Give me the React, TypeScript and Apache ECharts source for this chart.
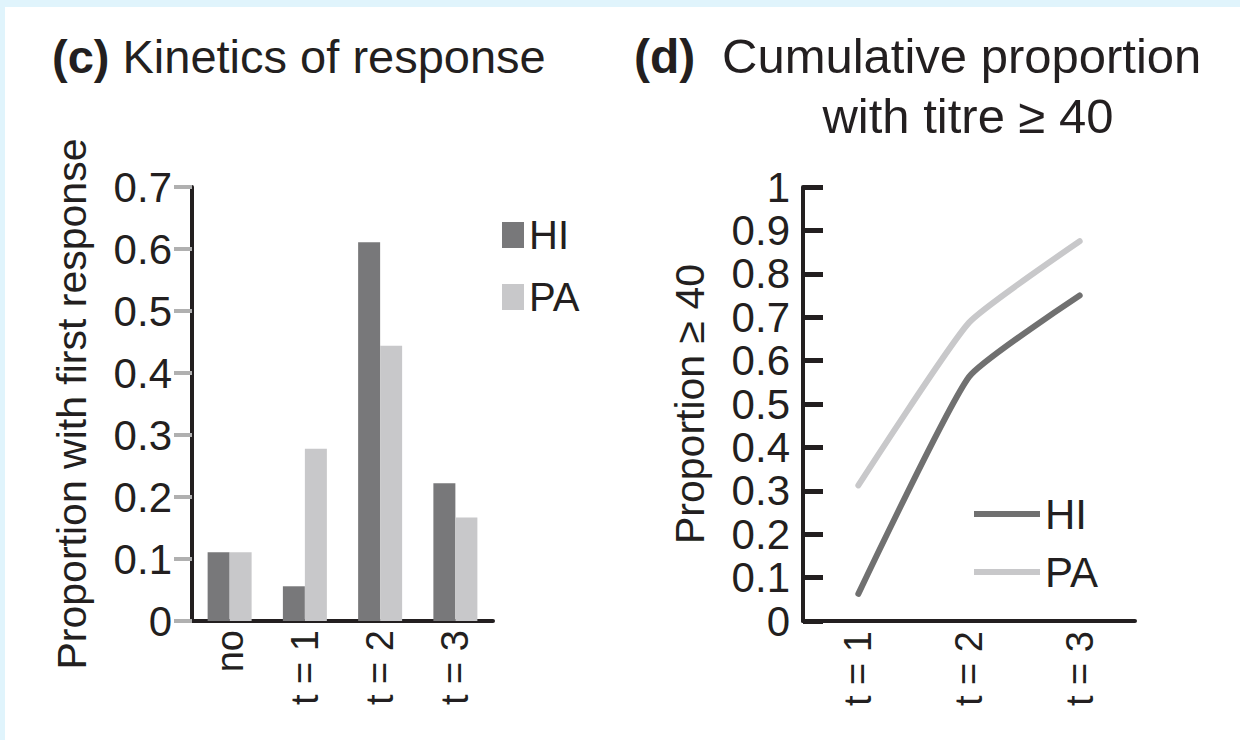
import React, { useEffect, useRef } from "react";
import * as echarts from "echarts";

const CATEGORIES_C = ["no", "t = 1", "t = 2", "t = 3"];
const HI_C = [0.111, 0.056, 0.611, 0.222];
const PA_C = [0.111, 0.278, 0.444, 0.167];

const CATEGORIES_D = ["t = 1", "t = 2", "t = 3"];
const HI_D = [0.0625, 0.5625, 0.75];
const PA_D = [0.3125, 0.6875, 0.875];

const FONT = "'Liberation Sans', Arial, Helvetica, sans-serif";
const INK = "#231f20";
const DARK = "#78787a";
const LIGHT = "#c8c8ca";

export default function App() {
  const ref = useRef<HTMLDivElement>(null);

  useEffect(() => {
    if (!ref.current) return;
    const chart = echarts.init(ref.current, null, { renderer: "svg" });
    const fmt = (v: number) => String(Math.round(v * 10) / 10);
    const option: any = {
      animation: false,
      backgroundColor: "#ffffff",
      textStyle: { fontFamily: FONT, color: INK },
      graphic: [
        { type: "rect", shape: { x: 0, y: 0, width: 1240, height: 7 }, style: { fill: "#e0f4fc" } },
        { type: "rect", shape: { x: 0, y: 0, width: 5, height: 740 }, style: { fill: "#e0f4fc" } },
        {
          type: "text",
          x: 52,
          y: 56,
          style: {
            text: "{b|(c)} Kinetics of response",
            fontFamily: FONT,
            fontSize: 47,
            fill: INK,
            verticalAlign: "middle",
            align: "left",
            rich: { b: { fontWeight: "bold", fontSize: 47, fontFamily: FONT, fill: INK } },
          },
        },
        {
          type: "text",
          x: 634,
          y: 56,
          style: { text: "(d)", fontFamily: FONT, fontSize: 48, fontWeight: "bold", fill: INK, verticalAlign: "middle", align: "left" },
        },
        {
          type: "text",
          x: 722,
          y: 56,
          style: { text: "Cumulative proportion", fontFamily: FONT, fontSize: 49, fill: INK, verticalAlign: "middle", align: "left" },
        },
        {
          type: "text",
          x: 968,
          y: 116,
          style: { text: "with titre \u2265 40", fontFamily: FONT, fontSize: 49, fill: INK, verticalAlign: "middle", align: "center" },
        },
      ],
      legend: [
        {
          data: ["HI-c", "PA-c"],
          orient: "vertical",
          left: 497,
          top: 210,
          icon: "rect",
          itemWidth: 22,
          itemHeight: 26,
          itemGap: 22,
          formatter: (n: string) => n.slice(0, 2),
          textStyle: { fontFamily: FONT, fontSize: 40, lineHeight: 40, color: INK },
        },
        {
          data: ["HI-d", "PA-d"],
          orient: "vertical",
          left: 969,
          top: 488,
          icon: "rect",
          itemWidth: 66,
          itemHeight: 6,
          itemGap: 16,
          formatter: (n: string) => n.slice(0, 2),
          textStyle: { fontFamily: FONT, fontSize: 42, lineHeight: 42, color: INK },
        },
      ],
      grid: [
        { left: 192, top: 187, width: 301, height: 434, containLabel: false },
        { left: 803, top: 187, width: 332, height: 434, containLabel: false },
      ],
      xAxis: [
        {
          type: "category",
          gridIndex: 0,
          data: CATEGORIES_C,
          axisLine: { lineStyle: { color: INK, width: 4 } },
          axisTick: { show: false },
          axisLabel: { rotate: 90, interval: 0, margin: 9, fontSize: 38, color: INK, fontFamily: FONT },
        },
        {
          type: "category",
          gridIndex: 1,
          data: CATEGORIES_D,
          axisLine: { lineStyle: { color: INK, width: 4 } },
          axisTick: { show: false },
          axisLabel: { rotate: 90, interval: 0, margin: 10, fontSize: 38, color: INK, fontFamily: FONT },
        },
      ],
      yAxis: [
        {
          type: "value",
          gridIndex: 0,
          min: 0,
          max: 0.7,
          interval: 0.1,
          name: "Proportion with first response",
          nameLocation: "middle",
          nameGap: 100,
          nameTextStyle: { fontSize: 41, color: INK, fontFamily: FONT },
          axisLine: { show: true, lineStyle: { color: INK, width: 4 } },
          axisTick: { show: true, length: 18, lineStyle: { color: "#b0b0b0", width: 4 } },
          axisLabel: { margin: 20, fontSize: 42, color: INK, fontFamily: FONT, formatter: fmt },
          splitLine: { show: false },
        },
        {
          type: "value",
          gridIndex: 1,
          min: 0,
          max: 1,
          interval: 0.1,
          name: "Proportion \u2265 40",
          nameLocation: "middle",
          nameGap: 93,
          nameTextStyle: { fontSize: 41, color: INK, fontFamily: FONT },
          axisLine: { show: true, lineStyle: { color: INK, width: 4 } },
          axisTick: { show: true, inside: true, length: 20, lineStyle: { color: INK, width: 5 } },
          axisLabel: { margin: 13, fontSize: 42, color: INK, fontFamily: FONT, formatter: fmt },
          splitLine: { show: false },
        },
      ],
      series: [
        {
          name: "HI-c",
          type: "bar",
          xAxisIndex: 0,
          yAxisIndex: 0,
          data: HI_C,
          barWidth: 22,
          barGap: "0%",
          itemStyle: { color: DARK },
        },
        {
          name: "PA-c",
          type: "bar",
          xAxisIndex: 0,
          yAxisIndex: 0,
          data: PA_C,
          barWidth: 22,
          barGap: "0%",
          itemStyle: { color: LIGHT },
        },
        {
          name: "HI-d",
          type: "line",
          xAxisIndex: 1,
          yAxisIndex: 1,
          data: HI_D,
          smooth: 0.15,
          symbol: "none",
          itemStyle: { color: "#707070" },
          lineStyle: { color: "#707070", width: 6, cap: "round", join: "round" },
        },
        {
          name: "PA-d",
          type: "line",
          xAxisIndex: 1,
          yAxisIndex: 1,
          data: PA_D,
          smooth: 0.15,
          symbol: "none",
          itemStyle: { color: LIGHT },
          lineStyle: { color: LIGHT, width: 6, cap: "round", join: "round" },
        },
      ],
    };
    chart.setOption(option);
    return () => chart.dispose();
  }, []);

  return (
    <div
      ref={ref}
      style={{ position: "fixed", left: 0, top: 0, width: 1240, height: 740, background: "#ffffff" }}
    />
  );
}
